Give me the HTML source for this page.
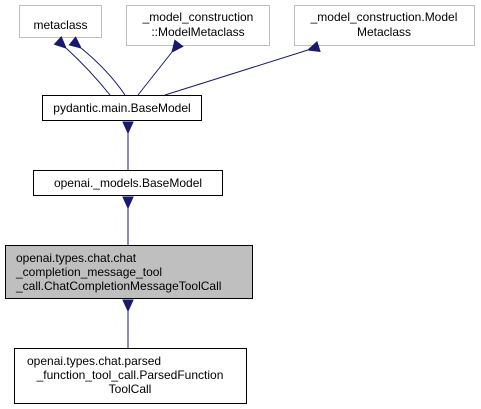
<!DOCTYPE html>
<html><head><style>body{margin:0;background:#fff}svg{display:block}</style></head><body>
<svg width="481" height="409" xmlns="http://www.w3.org/2000/svg" font-family="Liberation Sans, Arial, sans-serif" font-size="12">
<defs><marker id="a" markerWidth="12" markerHeight="12" refX="0" refY="6" orient="auto" markerUnits="userSpaceOnUse"><path d="M11,1 L0,6 L11,11 Z" fill="#191970" stroke="#191970"/></marker></defs>
<g fill="#fff" stroke="#bfbfbf">
<rect x="19.5" y="5.5" width="82" height="32"/>
<rect x="126.5" y="5.5" width="143" height="40"/>
<rect x="294.5" y="5.5" width="180" height="40"/>
</g>
<g fill="#fff" stroke="#000">
<rect x="42.5" y="95.5" width="159" height="25"/>
<rect x="33.5" y="170.5" width="189" height="25"/>
<rect x="5.5" y="245.5" width="247" height="53" fill="#bfbfbf"/>
<rect x="14.5" y="348.5" width="232" height="55"/>
</g>
<g stroke="#191970" fill="none" stroke-width="1">
<path d="M110,95 Q90,70 66,48" marker-end="url(#a)"/>
<path d="M125,95 Q108,70 81,48" marker-end="url(#a)"/>
<path d="M138,95 L172,52" marker-end="url(#a)"/>
<path d="M165,95 L308,50" marker-end="url(#a)"/>
<path d="M128,170 L128,133" marker-end="url(#a)"/>
<path d="M128,245 L128,208" marker-end="url(#a)"/>
<path d="M128,348 L128,311" marker-end="url(#a)"/>
</g>
<g fill="#000">
<text x="60.5" y="29" text-anchor="middle">metaclass</text>
<text x="198" y="21" text-anchor="middle">_model_construction</text>
<text x="198" y="36" text-anchor="middle">::ModelMetaclass</text>
<text x="384" y="21" text-anchor="middle">_model_construction.Model</text>
<text x="384" y="36" text-anchor="middle">Metaclass</text>
<text x="122" y="112" text-anchor="middle">pydantic.main.BaseModel</text>
<text x="128" y="187" text-anchor="middle">openai._models.BaseModel</text>
<text x="16" y="262">openai.types.chat.chat</text>
<text x="16" y="276">_completion_message_tool</text>
<text x="16" y="290">_call.ChatCompletionMessageToolCall</text>
<text x="27" y="365">openai.types.chat.parsed</text>
<text x="130" y="379" text-anchor="middle">_function_tool_call.ParsedFunction</text>
<text x="130" y="393" text-anchor="middle">ToolCall</text>
</g>
</svg>
</body></html>
